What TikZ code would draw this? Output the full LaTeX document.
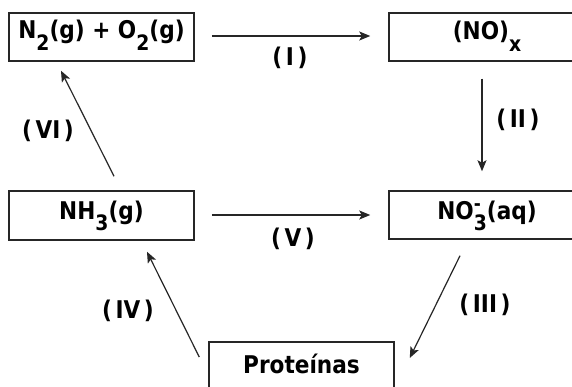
\documentclass[tikz,border=0pt]{standalone}
\usepackage{fontspec}
\usepackage{graphicx}
\setmainfont{DejaVu Sans}
\usetikzlibrary{calc,arrows.meta}
\newcommand\subx[1]{\raisebox{-11pt}{\fontsize{20}{20}\selectfont #1}}
\newcommand\supm{\rlap{\raisebox{8pt}{\fontsize{18}{18}\selectfont -}}}
\newcommand\bt[1]{\scalebox{0.94}[1.06]{#1}}
\begin{document}
\begin{tikzpicture}[x=1pt,y=-1pt,
  box/.style={draw=black!85,line width=1.5pt,rectangle,inner sep=0pt,minimum height=48pt,
    font=\fontsize{23}{23}\selectfont\bfseries,text depth=0pt},
  conn/.style={draw=black!85,line width=1.2pt,-{Stealth[length=11pt,width=9pt,inset=2.5pt]}},
  lab/.style={font=\fontsize{23}{23}\selectfont\bfseries,inner sep=0pt}]
\useasboundingbox (0,0) rectangle (572,387);
\clip (0,0) rectangle (572,387);
\fill[white] (0,0) rectangle (572,387);
% boxes
\node[box,minimum width=185pt,text height=4pt] (b1) at (101.5,37) {\bt{N\subx{2}(g) + O\subx{2}(g)}};
\node[box,minimum width=196pt,text height=5pt] (b2) at (487,37) {\bt{(NO)\subx{x}}};
\node[box,minimum width=185pt,minimum height=49pt,text height=7pt] (b3) at (101.5,215.5) {\bt{NH\subx{3}(g)}};
\node[box,minimum width=196pt,text height=8pt] (b4) at (487,215) {\bt{NO\supm\subx{3}(aq)}};
\node[box,minimum width=185pt,text height=14pt] (b5) at (301.5,366) {\bt{Proteínas}};
% connectors
\draw[conn] ($(b1.east)+(17,-1)$) -- ($(b2.west)+(-18,-1)$);
\draw[conn] ($(b2.south)+(-5,17)$) -- ($(b4.north)+(-5,-19)$);
\draw[conn] ($(b4.south)+(-27,16)$) -- ($(b5.east)+(15,-8)$);
\draw[conn] ($(b5.west)+(-9,-9)$) -- ($(b3.south)+(45.5,11)$);
\draw[conn] ($(b3.east)+(17,-0.5)$) -- ($(b4.west)+(-18,0)$);
\draw[conn] ($(b3.north)+(12.5,-14)$) -- ($(b1.south)+(-40.5,9)$);
% labels
\node[lab] (l1) at (290,58) {\bt{(\,I\,)}};
\node[lab] (l2) at (518,120) {\bt{(\,II\,)}};
\node[lab] (l3) at (485,305) {\bt{(\,III\,)}};
\node[lab] (l4) at (128,311) {\bt{(\,IV\,)}};
\node[lab] (l5) at (293,239) {\bt{(\,V\,)}};
\node[lab] (l6) at (48,131) {\bt{(\,VI\,)}};
\end{tikzpicture}
\end{document}
